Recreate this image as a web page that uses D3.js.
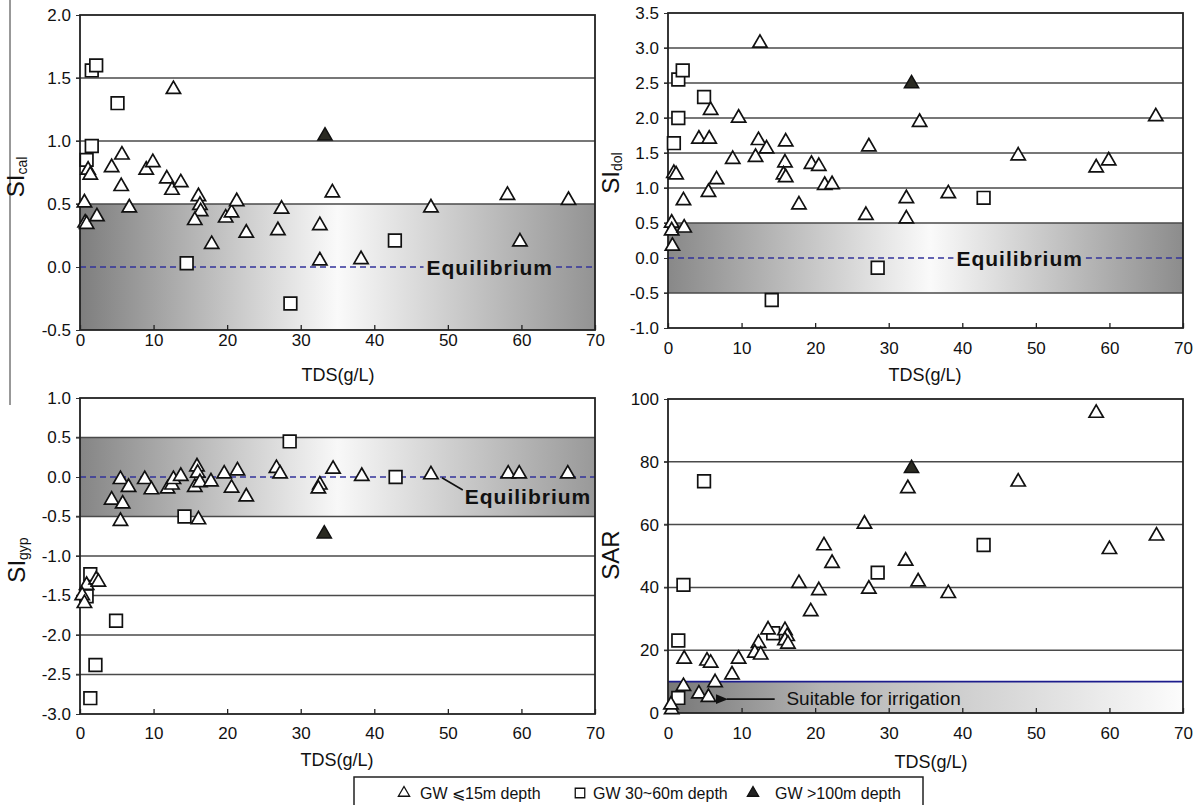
<!DOCTYPE html>
<html>
<head>
<meta charset="utf-8">
<script src="https://cdn.jsdelivr.net/npm/d3@7"></script>
<style>
  body { margin: 0; background: #fff; }
  svg { display: block; font-family: "Liberation Sans", Arial, sans-serif; }
</style>
</head>
<body>
<svg id="chart" width="1200" height="805"></svg>
<script>
// ---- data: [TDS g/L, value] ----
const calTri = [[0.6,0.51],[0.7,0.35],[0.9,0.34],[1.1,0.77],[1.4,0.73],[2.3,0.40],[4.3,0.79],[5.7,0.89],[5.6,0.64],[6.7,0.47],[9.0,0.77],[9.9,0.83],[11.8,0.70],[12.5,0.61],[12.7,1.41],[13.7,0.67],[16.1,0.56],[16.3,0.49],[16.4,0.44],[15.6,0.37],[17.9,0.18],[19.8,0.39],[20.6,0.43],[21.3,0.52],[22.6,0.27],[26.9,0.29],[27.4,0.46],[32.6,0.33],[32.6,0.05],[34.3,0.59],[38.2,0.06],[47.7,0.47],[58.1,0.57],[59.8,0.20],[66.4,0.53]]
const calSq = [[1.6,1.56],[2.2,1.60],[5.1,1.30],[1.6,0.96],[0.9,0.85],[14.5,0.03],[28.6,-0.29],[42.8,0.21]]
const calDeep = [[33.3,1.04]]

const dolTri = [[12.5,3.07],[5.8,2.11],[9.6,2.0],[34.2,1.94],[66.3,2.02],[4.2,1.70],[5.6,1.70],[12.3,1.68],[16.0,1.66],[13.4,1.56],[27.3,1.59],[8.8,1.41],[11.9,1.44],[15.9,1.36],[19.5,1.34],[20.5,1.31],[0.8,1.21],[1.1,1.19],[6.6,1.12],[15.7,1.19],[16.0,1.15],[21.3,1.04],[22.3,1.05],[5.5,0.94],[2.1,0.82],[17.8,0.76],[32.4,0.85],[38.1,0.92],[47.6,1.46],[58.2,1.29],[59.9,1.39],[26.9,0.61],[32.4,0.56],[0.5,0.50],[0.5,0.39],[2.2,0.43],[0.6,0.17]]
const dolSq = [[1.4,2.55],[2.0,2.68],[4.9,2.30],[1.4,2.0],[0.8,1.64],[42.9,0.86],[28.5,-0.14],[14.1,-0.60]]
const dolDeep = [[33.1,2.49]]

const gypTri = [[4.3,-0.29],[5.5,-0.03],[5.8,-0.34],[5.5,-0.56],[6.6,-0.13],[8.8,-0.03],[9.7,-0.16],[11.9,-0.15],[12.5,-0.10],[12.7,-0.03],[13.7,0.01],[15.9,0.13],[16.0,0.05],[15.6,-0.13],[16.3,-0.07],[16.1,-0.54],[17.8,-0.06],[19.6,0.04],[20.6,-0.14],[21.4,0.08],[22.6,-0.25],[26.7,0.11],[27.2,0.04],[32.6,-0.10],[32.4,-0.15],[34.4,0.10],[38.3,0.01],[47.7,0.03],[58.2,0.04],[59.7,0.04],[66.3,0.04],[0.9,-1.37],[2.2,-1.30],[2.5,-1.33],[0.3,-1.50],[0.6,-1.60]]
const gypSq = [[28.5,0.45],[14.2,-0.50],[42.9,0.0],[1.4,-1.23],[0.9,-1.51],[4.9,-1.82],[2.1,-2.38],[1.4,-2.80]]
const gypDeep = [[33.2,-0.72]]

const sarTri = [[58.2,95.5],[32.6,71.5],[47.6,73.6],[26.7,60.2],[21.2,53.3],[60.0,52.1],[66.4,56.4],[22.3,47.7],[32.3,48.4],[34.0,41.8],[17.8,41.3],[20.5,39.0],[27.3,39.5],[38.1,38.1],[19.4,32.3],[13.6,26.5],[15.9,26.3],[16.2,24.4],[15.9,23.1],[16.3,22.0],[12.3,22.2],[11.8,19.1],[12.6,18.5],[9.6,17.2],[2.2,17.2],[5.3,16.6],[5.8,15.9],[8.7,12.2],[6.4,9.7],[2.1,8.5],[4.2,6.1],[5.5,5.0],[0.5,1.1],[0.4,2.6]]
const sarSq = [[4.9,73.8],[2.1,40.8],[1.4,23.1],[1.4,4.8],[14.3,25.4],[28.5,44.7],[42.9,53.5]]
const sarDeep = [[33.1,77.9]]

const xTicks = [0, 10, 20, 30, 40, 50, 60, 70]
const legendLabels = ["GW \u2A7D15m depth", "GW 30~60m depth", "GW >100m depth"]

const svg = d3.select("#chart")
const defs = svg.append("defs")

// stray rule on the left edge of the scan
svg.append("line").attr("x1", 10).attr("x2", 10).attr("y1", 0).attr("y2", 405)
  .attr("stroke", "#333").attr("stroke-width", 1)

const fmt1 = d => d.toFixed(1)

const panels = [
  { id: "cal", box: {l: 80, r: 595, t: 15, b: 330}, y: [-0.5, 2.0], step: 0.5, fmt: fmt1,
    tri: calTri, sq: calSq, deep: calDeep, band: [-0.5, 0.5],
    grad: [[0, "#7e7e7e"], [0.5, "#fafafa"], [1, "#939393"]],
    xLabY: 340, titleY: 375, titleX: 338, ylab: {x: 18, y: 177, main: "SI", sub: "cal"},
    eq: {type: "inline", x: 55.7} },
  { id: "dol", box: {l: 668, r: 1183, t: 13, b: 328}, y: [-1.0, 3.5], step: 0.5, fmt: fmt1,
    tri: dolTri, sq: dolSq, deep: dolDeep, band: [-0.5, 0.5],
    grad: [[0, "#888"], [0.51, "#fafafa"], [1, "#8c8c8c"]],
    xLabY: 348, titleY: 375, titleX: 925, ylab: {x: 613, y: 173, main: "SI", sub: "dol"},
    eq: {type: "inline", x: 47.8} },
  { id: "gyp", box: {l: 80, r: 595, t: 398, b: 714}, y: [-3.0, 1.0], step: 0.5, fmt: fmt1,
    tri: gypTri, sq: gypSq, deep: gypDeep, band: [-0.5, 0.5],
    grad: [[0, "#858585"], [0.5, "#f8f8f8"], [1, "#999"]],
    xLabY: 733, titleY: 760, titleX: 337, ylab: {x: 19, y: 560, main: "SI", sub: "gyp"},
    eq: {type: "arrow", tx: 52.3, ty: -0.24, ax: 49.2, ay: -0.01} },
  { id: "sar", box: {l: 668, r: 1183, t: 399, b: 713}, y: [0, 100], step: 20, fmt: d => d3.format("d")(d),
    tri: sarTri, sq: sarSq, deep: sarDeep, band: [0, 10],
    grad: [[0, "#777"], [0.3, "#b4b4b4"], [0.7, "#dcdcdc"], [1, "#fcfcfc"]],
    xLabY: 733, titleY: 762, titleX: 931, ylab: {x: 613, y: 555, main: "SAR", sub: ""},
    eq: {type: "sar"} }
]

const triSym = d3.symbol().type(d3.symbolTriangle).size(88)
const sqSym = d3.symbol().type(d3.symbolSquare).size(160)

panels.forEach(p => {
  const {l, r, t, b} = p.box
  const x = d3.scaleLinear().domain([0, 70]).range([l, r])
  const y = d3.scaleLinear().domain(p.y).range([b, t])
  const g = svg.append("g")
  const yTicks = d3.range(p.y[0], p.y[1] + p.step / 2, p.step).map(v => +v.toFixed(2))

  // shaded band with horizontal gradient
  const grad = defs.append("linearGradient").attr("id", "grad-" + p.id)
    .attr("x1", 0).attr("x2", 1).attr("y1", 0).attr("y2", 0)
  grad.selectAll("stop").data(p.grad).enter().append("stop")
    .attr("offset", d => d[0]).attr("stop-color", d => d[1])
  g.append("rect")
    .attr("x", l).attr("width", r - l)
    .attr("y", y(p.band[1])).attr("height", y(p.band[0]) - y(p.band[1]))
    .attr("fill", `url(#grad-${p.id})`)

  // horizontal grid lines
  g.selectAll(".grid").data(yTicks.filter(v => v > p.y[0] && v < p.y[1] && !(p.id !== "sar" && v === 0)))
    .enter().append("line")
    .attr("x1", l - 4).attr("x2", r)
    .attr("y1", d => y(d)).attr("y2", d => y(d))
    .attr("stroke", "#4a4a4a").attr("stroke-width", 1.5)

  // y axis labels
  const yAxis = d3.axisLeft(y).tickValues(yTicks).tickFormat(p.fmt).tickSize(4).tickPadding(5)
  const ya = g.append("g").attr("transform", `translate(${l},0)`).call(yAxis)
  ya.select(".domain").remove()
  ya.selectAll("line").attr("stroke", "#333")
  ya.selectAll("text").attr("font-size", 17).attr("fill", "#111")
    .attr("font-family", "Liberation Sans, Arial, sans-serif")

  // x axis: short inward ticks, labels below
  const xAxis = d3.axisBottom(x).tickValues(xTicks).tickFormat(d3.format("d")).tickSize(-5)
  const xa = g.append("g").attr("transform", `translate(0,${b})`).call(xAxis)
  xa.select(".domain").remove()
  xa.selectAll("line").attr("stroke", "#222").attr("stroke-width", 1.3)
  xa.selectAll("text").attr("y", p.xLabY - b).attr("dy", "0.35em")
    .attr("font-size", 17).attr("fill", "#111")
    .attr("font-family", "Liberation Sans, Arial, sans-serif")

  g.append("text").attr("x", p.titleX).attr("y", p.titleY).attr("dy", "0.35em")
    .attr("text-anchor", "middle").attr("font-size", 18).attr("fill", "#111")
    .text("TDS(g/L)")

  // y title with subscript
  const yl = g.append("text").attr("transform", `translate(${p.ylab.x},${p.ylab.y}) rotate(-90)`)
    .attr("text-anchor", "middle").attr("dy", "0.35em").attr("fill", "#111")
  yl.append("tspan").attr("font-size", 24).text(p.ylab.main)
  if (p.ylab.sub) yl.append("tspan").attr("font-size", 14).attr("dy", "0.25em").text(p.ylab.sub)

  // equilibrium / irrigation annotations
  if (p.eq.type === "inline") {
    const txt = g.append("text").attr("x", x(p.eq.x)).attr("y", y(0)).attr("dy", "0.36em")
      .attr("text-anchor", "middle").attr("font-size", 21).attr("font-weight", "bold")
      .attr("letter-spacing", 1).attr("fill", "#111").text("Equilibrium")
    const w = txt.node().getComputedTextLength()
    const segs = [[l, x(p.eq.x) - w / 2 - 3], [x(p.eq.x) + w / 2 + 3, r]]
    g.selectAll(".eqline").data(segs).enter().append("line")
      .attr("x1", d => d[0]).attr("x2", d => d[1]).attr("y1", y(0)).attr("y2", y(0))
      .attr("stroke", "#33339a").attr("stroke-width", 1.5).attr("stroke-dasharray", "6,4")
  } else if (p.eq.type === "arrow") {
    g.append("line").attr("x1", l).attr("x2", r).attr("y1", y(0)).attr("y2", y(0))
      .attr("stroke", "#33339a").attr("stroke-width", 1.5).attr("stroke-dasharray", "6,4")
    g.append("text").attr("x", x(p.eq.tx)).attr("y", y(p.eq.ty)).attr("dy", "0.36em")
      .attr("font-size", 21).attr("font-weight", "bold").attr("letter-spacing", 1)
      .attr("fill", "#111").text("Equilibrium")
    g.append("line").attr("x1", x(p.eq.tx) - 2).attr("y1", y(p.eq.ty) - 6)
      .attr("x2", x(p.eq.ax)).attr("y2", y(p.eq.ay))
      .attr("stroke", "#111").attr("stroke-width", 1.6)
  } else {
    g.append("line").attr("x1", l).attr("x2", r).attr("y1", y(10)).attr("y2", y(10))
      .attr("stroke", "#1c1c8c").attr("stroke-width", 1.6)
    defs.append("marker").attr("id", "arr").attr("viewBox", "0 0 10 10")
      .attr("refX", 1).attr("refY", 5).attr("markerWidth", 7).attr("markerHeight", 7)
      .attr("orient", "auto-start-reverse")
      .append("path").attr("d", "M0,5L10,1L10,9Z").attr("fill", "#111")
    g.append("line").attr("x1", x(14.5)).attr("x2", x(8.0)).attr("y1", y(4.4)).attr("y2", y(4.4))
      .attr("stroke", "#111").attr("stroke-width", 1.8).attr("marker-end", "url(#arr)")
    g.append("text").attr("x", x(16.1)).attr("y", y(4.8)).attr("dy", "0.36em")
      .attr("font-size", 19).attr("fill", "#111").text("Suitable for irrigation")
  }

  // frame
  g.append("rect").attr("x", l).attr("y", t).attr("width", r - l).attr("height", b - t)
    .attr("fill", "none").attr("stroke", "#222").attr("stroke-width", 1.8)

  // markers
  g.selectAll(".sq").data(p.sq).enter().append("path")
    .attr("d", sqSym).attr("transform", d => `translate(${x(d[0])},${y(d[1])})`)
    .attr("fill", "#fff").attr("stroke", "#111").attr("stroke-width", 1.7)
  g.selectAll(".tri").data(p.tri).enter().append("path")
    .attr("d", triSym).attr("transform", d => `translate(${x(d[0])},${y(d[1])})`)
    .attr("fill", "#fff").attr("stroke", "#111").attr("stroke-width", 1.7)
  g.selectAll(".deep").data(p.deep).enter().append("path")
    .attr("d", triSym).attr("transform", d => `translate(${x(d[0])},${y(d[1])})`)
    .attr("fill", "#2a2a22").attr("stroke", "#111").attr("stroke-width", 1.5)
})

// legend
const lg = svg.append("g")
lg.append("rect").attr("x", 354).attr("y", 777).attr("width", 569).attr("height", 40)
  .attr("fill", "#fff").attr("stroke", "#222").attr("stroke-width", 1.5)
const legendItems = [
  {sym: d3.symbol().type(d3.symbolTriangle).size(55), fill: "#fff", sx: 404, tx: 420},
  {sym: d3.symbol().type(d3.symbolSquare).size(90), fill: "#fff", sx: 580, tx: 593},
  {sym: d3.symbol().type(d3.symbolTriangle).size(55), fill: "#222", sx: 753, tx: 775}
]
legendItems.forEach((it, i) => {
  lg.append("path").attr("d", it.sym).attr("transform", `translate(${it.sx},793)`)
    .attr("fill", it.fill).attr("stroke", "#111").attr("stroke-width", 1.3)
  lg.append("text").attr("x", it.tx).attr("y", 793).attr("dy", "0.35em")
    .attr("font-size", 16).attr("fill", "#111").text(legendLabels[i])
})
</script>
</body>
</html>
